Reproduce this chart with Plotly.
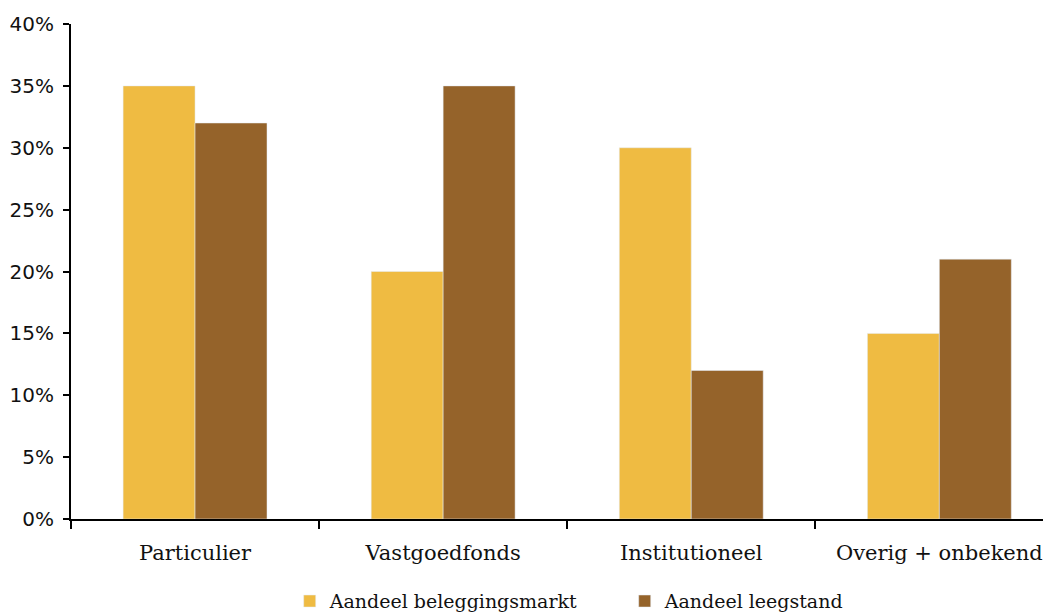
import plotly.graph_objects as go

categories = ["Particulier", "Vastgoedfonds", "Institutioneel", "Overig + onbekend"]
beleggingsmarkt = [0.35, 0.20, 0.30, 0.15]
leegstand = [0.32, 0.35, 0.12, 0.21]
series_names = ["Aandeel beleggingsmarkt", "Aandeel leegstand"]

fig = go.Figure()
fig.add_trace(go.Bar(x=categories, y=beleggingsmarkt, name=series_names[0],
                     marker_color="#EFBB42"))
fig.add_trace(go.Bar(x=categories, y=leegstand, name=series_names[1],
                     marker_color="#95632A"))

# page body has an 8px margin, so the figure is a bit smaller than the window
fig.update_layout(
    width=1043, height=604,
    barmode="group", bargap=0.42, bargroupgap=0,
    plot_bgcolor="white", paper_bgcolor="white",
    margin=dict(l=63, r=0, t=16, b=93, autoexpand=False),
    legend=dict(orientation="h", x=0.565, xanchor="center", y=-0.166, yanchor="middle",
                font=dict(family="DejaVu Serif", size=19, color="#111"),
                itemwidth=30, entrywidth=290),
)
fig.update_xaxes(range=[-0.5, 3.45], showline=True, linecolor="black", linewidth=2,
                 automargin=False, ticklabelstandoff=14,
                 ticks="outside", tickson="boundaries", ticklen=8, tickwidth=2, tickcolor="black",
                 tickfont=dict(family="DejaVu Serif", size=21, color="#111"))
fig.update_yaxes(range=[0, 0.4], dtick=0.05, tickformat=".0%", showgrid=False,
                 showline=True, linecolor="black", linewidth=2, automargin=False,
                 ticks="outside", ticklen=6, tickwidth=2, tickcolor="black",
                 ticklabelstandoff=5,
                 tickfont=dict(family="DejaVu Sans", size=20, color="#111"))

fig.write_html("out.html")
